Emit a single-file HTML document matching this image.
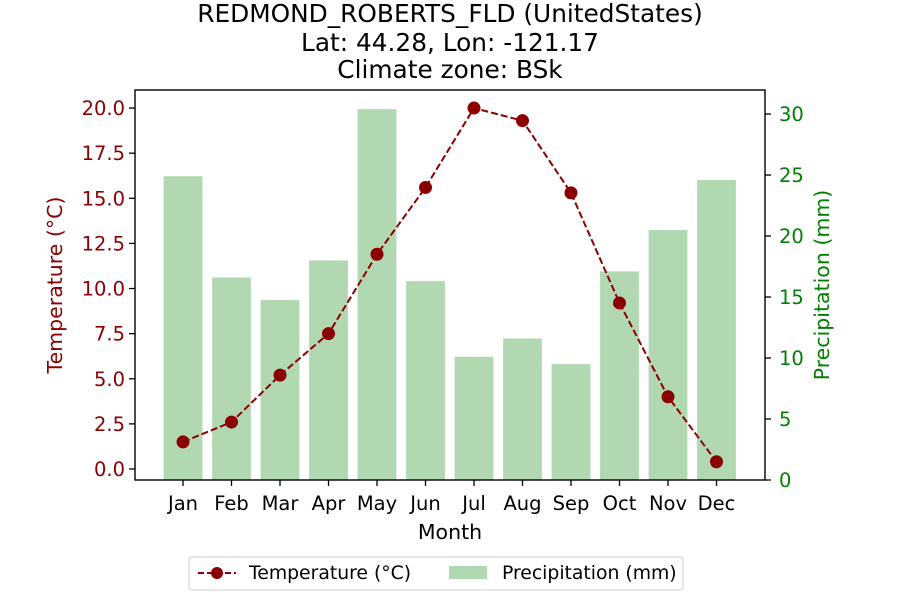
<!DOCTYPE html>
<html><head><meta charset="utf-8">
<style>
body{margin:0;background:#fff;}
svg text{font-family:"DejaVu Sans","Liberation Sans",sans-serif;}
</style></head>
<body>
<svg id="chart" width="900" height="600" viewBox="0 0 900 600" xmlns="http://www.w3.org/2000/svg">
<g font-size="24.8" text-anchor="middle" fill="#000">
<text x="450" y="22">REDMOND_ROBERTS_FLD (UnitedStates)</text>
<text x="450" y="51">Lat: 44.28, Lon: -121.17</text>
<text x="450" y="78">Climate zone: BSk</text>
</g>
<g id="bars"></g>
<g id="line"></g>
<rect x="135" y="90" width="630" height="390" fill="none" stroke="#000" stroke-width="1.4"/>
<g id="xaxis"></g>
<g id="yleft"></g>
<g id="yright"></g>
<text x="450" y="539" font-size="20.5" text-anchor="middle">Month</text>
<text transform="translate(62,285) rotate(-90)" font-size="20.5" text-anchor="middle" fill="#8b0000">Temperature (°C)</text>
<text transform="translate(829,285) rotate(-90)" font-size="20.5" text-anchor="middle" fill="#008000">Precipitation (mm)</text>
<g>
<rect x="189" y="557" width="494" height="33" rx="3" fill="#fff" stroke="#ccc"/>
<g>
<line x1="198" y1="573" x2="236" y2="573" stroke="#8b0000" stroke-width="2" stroke-dasharray="6,3"/>
<circle cx="217" cy="573" r="6" fill="#8b0000"/>
<text x="249" y="579" font-size="18.8">Temperature (°C)</text>
</g>
<g>
<rect x="449" y="566" width="38" height="13" fill="#b2d8b2"/>
<text x="502" y="579" font-size="18.8">Precipitation (mm)</text>
</g>
</g>
</svg>
<script>
const months=["Jan","Feb","Mar","Apr","May","Jun","Jul","Aug","Sep","Oct","Nov","Dec"];
const temperature=[1.5,2.6,5.2,7.5,11.9,15.6,20.0,19.3,15.3,9.2,4.0,0.4];
const precipitation=[24.9,16.6,14.75,18.0,30.4,16.3,10.1,11.6,9.5,17.1,20.5,24.6];
const tempTicks=["0.0","2.5","5.0","7.5","10.0","12.5","15.0","17.5","20.0"];
const precipTicks=["0","5","10","15","20","25","30"];
const NS="http://www.w3.org/2000/svg";
const L=135,R=765,T=90,B=480;
const xs=i=>L+(i+0.99)*(R-L)/12.99;
const yT=v=>B-(v+0.61)*(B-T)/(21.0+0.61);
const yP=v=>B-v*(B-T)/31.97;
function mk(tag,attrs,parent){const e=document.createElementNS(NS,tag);for(const k in attrs)e.setAttribute(k,attrs[k]);parent.appendChild(e);return e;}
const bars=document.getElementById('bars'),line=document.getElementById('line');
const bw=0.8*(R-L)/12.99;
precipitation.forEach((v,i)=>{
 const r=mk('rect',{x:xs(i)-bw/2,y:yP(v),width:bw,height:B-yP(v),fill:'#b2d8b2'},bars);
 
 
});
const pts=temperature.map((v,i)=>xs(i)+','+yT(v)).join(' ');
const pl=mk('polyline',{points:pts,fill:'none',stroke:'#8b0000','stroke-width':2,'stroke-dasharray':'7,3'},line);


temperature.forEach((v,i)=>{
 const c=mk('circle',{cx:xs(i),cy:yT(v),r:6.5,fill:'#8b0000'},line);
 
 
});
const xa=document.getElementById('xaxis');
months.forEach((m,i)=>{
 mk('line',{x1:xs(i),x2:xs(i),y1:B,y2:B+6,stroke:'#000','stroke-width':1.3},xa);
 const t=mk('text',{x:xs(i),y:B+30,'font-size':19.5,'text-anchor':'middle'},xa);t.textContent=m;
 
 
});
const yl=document.getElementById('yleft');
tempTicks.forEach(s=>{const v=parseFloat(s);const y=yT(v);
 mk('line',{x1:L-6,x2:L,y1:y,y2:y,stroke:'#000','stroke-width':1.3},yl);
 const t=mk('text',{x:L-10,y:y+7,'font-size':19.5,'text-anchor':'end',fill:'#8b0000'},yl);t.textContent=s;
 
 
});
const yr=document.getElementById('yright');
precipTicks.forEach(s=>{const v=parseFloat(s);const y=yP(v);
 mk('line',{x1:R,x2:R+6,y1:y,y2:y,stroke:'#000','stroke-width':1.3},yr);
 const t=mk('text',{x:R+14,y:y+7,'font-size':19.5,'text-anchor':'start',fill:'#008000'},yr);t.textContent=s;
 
 
});
</script>
</body></html>
